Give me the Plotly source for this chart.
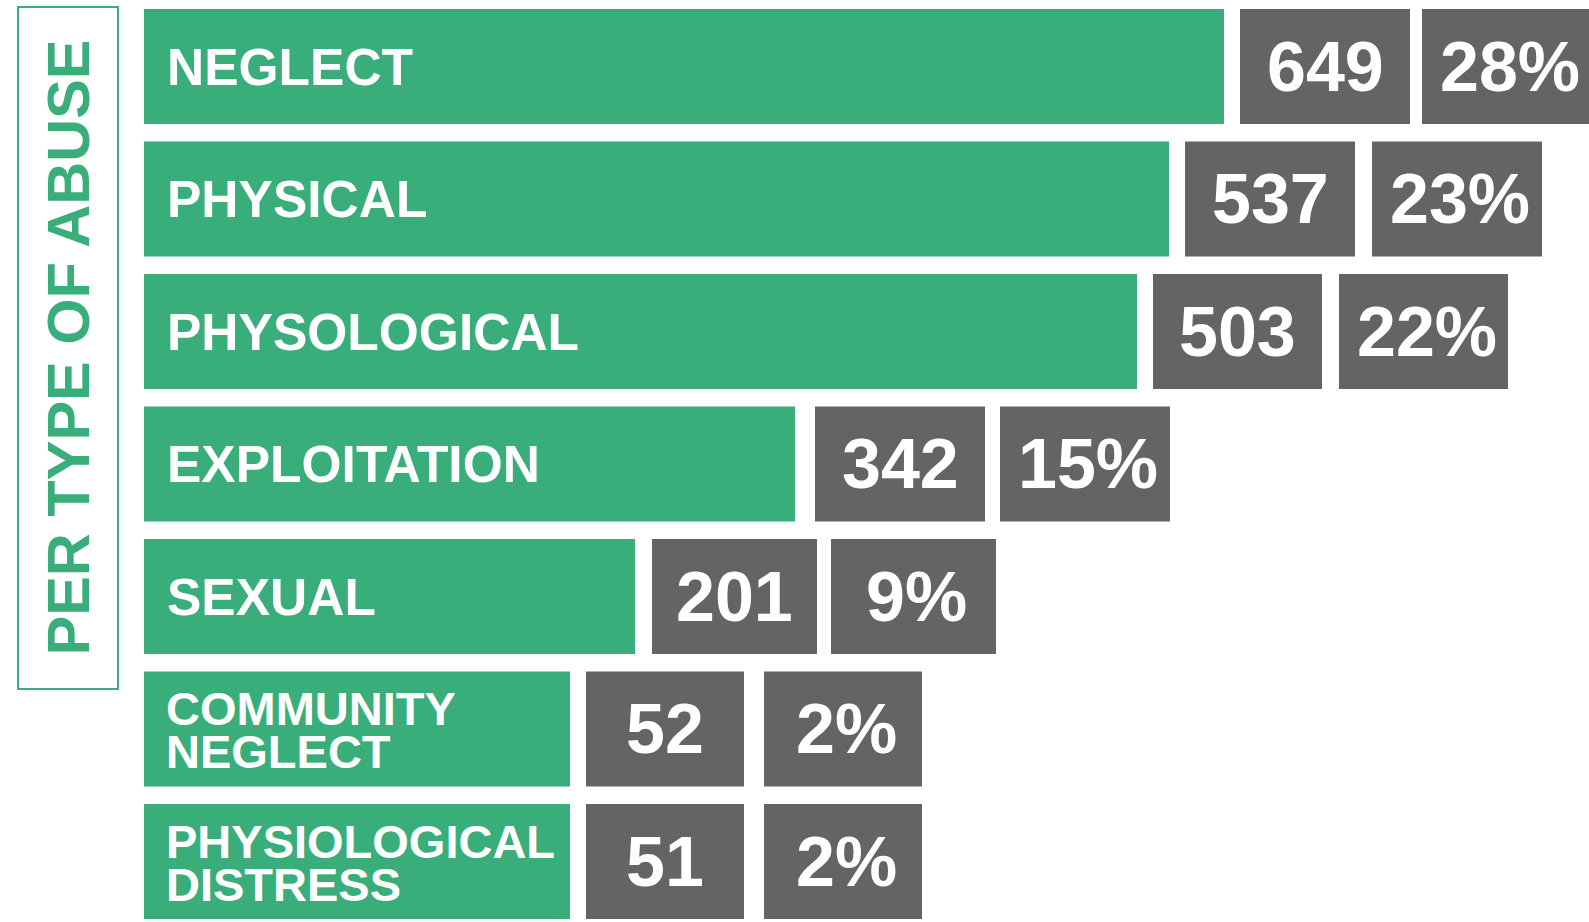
import plotly.graph_objects as go

# ---- data ----
categories = ["NEGLECT", "PHYSICAL", "PHYSOLOGICAL", "EXPLOITATION", "SEXUAL",
              "COMMUNITY NEGLECT", "PHYSIOLOGICAL DISTRESS"]
counts = [649, 537, 503, 342, 201, 52, 51]
percent_labels = ["28%", "23%", "22%", "15%", "9%", "2%", "2%"]
# displayed bar lengths of the infographic (axis units), not proportional to counts
bar_length = [1080, 1025, 993, 651, 491, 426, 426]
axis_title = "PER TYPE OF ABUSE"

# ---- styling ----
GREEN = "#39ae7a"
GRAY = "#636466"
FONT = "Liberation Sans"
W, H = 1589, 922
X0 = 144            # left edge of bars in pixels
PITCH = 132.5       # row pitch in pixels
C0 = 66.5           # centre of first row in pixels
BAR_H = 115.0

box_w = [170, 170, 169, 170, 165, 158, 158]
gap1 = [16, 16, 16, 20, 17, 16, 16]
gap2 = [12, 17, 17, 15, 14, 20, 20]

box1_base = [b + g for b, g in zip(bar_length, gap1)]
box2_base = [b1 + w + g for b1, w, g in zip(box1_base, box_w, gap2)]

fig = go.Figure()
for xs, bases, col in [(bar_length, [0] * len(categories), GREEN),
                       (box_w, box1_base, GRAY),
                       (box_w, box2_base, GRAY)]:
    fig.add_bar(y=categories, x=xs, base=bases, orientation="h",
                marker=dict(color=col, line=dict(width=0)), width=BAR_H / PITCH,
                hoverinfo="skip")

annotations = []
for i, cat in enumerate(categories):
    words = cat.split(" ")
    if len(words) == 1:
        annotations.append(dict(x=21, y=cat, xref="x", yref="y", xanchor="left",
                                yanchor="middle", text="<b>%s</b>" % cat, showarrow=False,
                                font=dict(family=FONT, size=51.5, color="white")))
    else:
        for line, ys in zip(words, [21, -22]):
            annotations.append(dict(x=20, y=cat, xref="x", yref="y", xanchor="left",
                                    yanchor="middle", yshift=ys, height=42,
                                    text="<b>%s</b>" % line, showarrow=False,
                                    font=dict(family=FONT, size=47, color="white")))
    annotations.append(dict(x=box1_base[i] + box_w[i] / 2, y=cat, xref="x", yref="y",
                            xanchor="center", yanchor="middle", text="<b>%d</b>" % counts[i],
                            showarrow=False, font=dict(family=FONT, size=70, color="white")))
    annotations.append(dict(x=box2_base[i] + box_w[i] / 2 + 3, y=cat, xref="x", yref="y",
                            xanchor="center", yanchor="middle", text="<b>%s</b>" % percent_labels[i],
                            showarrow=False, font=dict(family=FONT, size=70, color="white")))

annotations.append(dict(x=68.5 / W, y=1 - 348 / H, xref="paper", yref="paper",
                        xanchor="center", yanchor="middle", textangle=-90,
                        text="<b>%s</b>" % axis_title, showarrow=False,
                        font=dict(family=FONT, size=59.5, color=GREEN)))

shapes = [dict(type="rect", xref="paper", yref="paper",
               x0=18 / W, x1=118 / W, y0=1 - 689 / H, y1=1 - 7 / H,
               line=dict(color=GREEN, width=2), fillcolor="rgba(0,0,0,0)")]

fig.update_layout(
    width=W, height=H, autosize=False,
    margin=dict(l=0, r=0, t=0, b=0, pad=0),
    paper_bgcolor="white", plot_bgcolor="white",
    barmode="overlay", showlegend=False,
    annotations=annotations, shapes=shapes,
    xaxis=dict(range=[-X0, W - X0], showgrid=False, zeroline=False,
               showticklabels=False, fixedrange=True),
    yaxis=dict(range=[(H - C0) / PITCH, -C0 / PITCH], showgrid=False, zeroline=False,
               showticklabels=False, fixedrange=True),
)

fig.write_html("out.html", config={"displayModeBar": False},
               post_script="document.body.style.margin='0';document.body.style.overflow='hidden';")
